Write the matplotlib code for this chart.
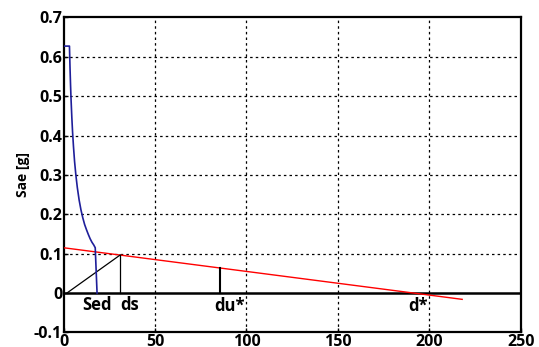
import matplotlib
matplotlib.use("Agg")
import matplotlib.pyplot as plt

# Capacity-demand curve (blue)
sae_d = [0, 3.2, 3.5, 3.8, 4.1, 4.5, 4.9, 5.4, 6.0, 6.7, 7.5, 8.5, 9.5,
         10.5, 11.5, 12.5, 13.5, 14.5, 15.5, 16.5, 17.3, 18.3]
sae_a = [0.627, 0.627, 0.573, 0.528, 0.489, 0.446, 0.409, 0.372, 0.334,
         0.300, 0.268, 0.236, 0.211, 0.191, 0.174, 0.161, 0.149, 0.138,
         0.129, 0.122, 0.115, 0.0]

# Red demand line
red_d = [0, 218]
red_a = [0.115, -0.016]

# Black construction lines
diag_d = [1.8, 30.9]
diag_a = [0.0, 0.0965]
ds_x, ds_top = 30.9, 0.0965
du_x, du_top = 85.6, 0.0630

labels = ["Sed", "ds", "du*", "d*"]
label_x = [18, 36, 91, 194]
label_y = [-0.03, -0.03, -0.032, -0.032]

xticks = [0, 50, 100, 150, 200, 250]
yticks = [-0.1, 0, 0.1, 0.2, 0.3, 0.4, 0.5, 0.6, 0.7]
ytick_labels = ["-0.1", "0", "0.1", "0.2", "0.3", "0.4", "0.5", "0.6", "0.7"]

plt.rcParams['font.family'] = ['Open Sans', 'DejaVu Sans']
fig = plt.figure(figsize=(5.39, 3.47), dpi=100)
ax = fig.add_axes([0.118, 0.042, 0.848, 0.908])

for x in [50, 100, 150, 200]:
    ax.axvline(x, color='black', lw=0.9, ls=(0, (2, 2.5)), zorder=1)
for y in [0.1, 0.2, 0.3, 0.4, 0.5, 0.6]:
    ax.axhline(y, color='black', lw=0.9, ls=(0, (2, 2.5)), zorder=1)
ax.axhline(0, color='black', lw=1.8, zorder=2)

ax.plot(red_d, red_a, color='#ff0000', lw=1.0, zorder=3)
ax.plot(sae_d, sae_a, color='#1f1f9a', lw=1.2, zorder=4)
ax.plot(diag_d, diag_a, color='black', lw=0.9, zorder=3)
ax.plot([ds_x, ds_x], [0, ds_top], color='black', lw=0.9, zorder=3)
ax.plot([du_x, du_x], [0, du_top], color='black', lw=1.5, zorder=3)

for t, x, y in zip(labels, label_x, label_y):
    ax.text(x, y, t, ha='center', va='center', fontsize=12, fontweight='bold')

ax.set_xlim(0, 250)
ax.set_ylim(-0.1, 0.7)
ax.set_xticks(xticks)
ax.set_yticks(yticks)
ax.set_yticklabels(ytick_labels)
ax.tick_params(direction='in', length=3, width=1, labelsize=11.5, pad=1)
for lab in ax.get_xticklabels() + ax.get_yticklabels():
    lab.set_fontweight('bold')
ax.set_ylabel('Sae [g]', fontsize=10, fontweight='bold', labelpad=3)
for s in ax.spines.values():
    s.set_linewidth(1.6)

fig.savefig('out.png', dpi=100)
